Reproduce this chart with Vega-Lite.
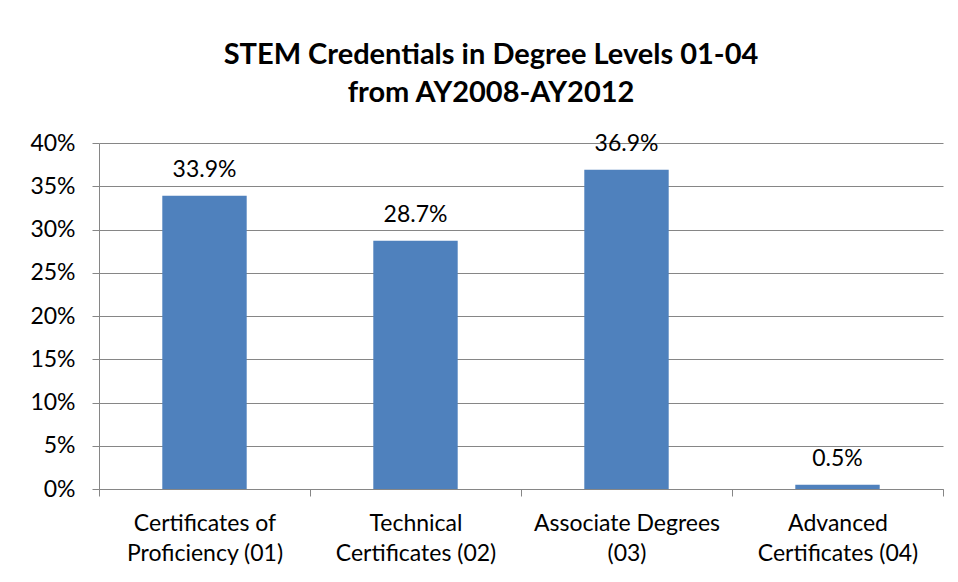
{
  "$schema": "https://vega.github.io/schema/vega-lite/v6.json",
  "width": 844,
  "height": 346,
  "autosize": {"type": "none"},
  "padding": {"left": 99, "top": 143, "right": 15, "bottom": 93},
  "background": "white",
  "title": {
    "text": ["STEM Credentials in Degree Levels 01-04", "from AY2008-AY2012"],
    "font": "Lato",
    "fontSize": 29,
    "fontWeight": "bold",
    "color": "#000000",
    "anchor": "middle",
    "frame": "group",
    "dx": -30,
    "offset": 24,
    "lineHeight": 38
  },
  "data": {
    "values": [
      {"category": "Certificates of Proficiency (01)", "value": 0.339},
      {"category": "Technical Certificates (02)", "value": 0.287},
      {"category": "Associate Degrees (03)", "value": 0.369},
      {"category": "Advanced Certificates (04)", "value": 0.005}
    ]
  },
  "encoding": {
    "x": {
      "field": "category",
      "type": "nominal",
      "sort": null,
      "scale": {"paddingInner": 0, "paddingOuter": 0},
      "axis": {
        "title": null,
        "labelAngle": 0,
        "labelExpr": "datum.value == 'Certificates of Proficiency (01)' ? ['Certificates of','Proficiency (01)'] : datum.value == 'Technical Certificates (02)' ? ['Technical','Certificates (02)'] : datum.value == 'Associate Degrees (03)' ? ['Associate Degrees','(03)'] : datum.value == 'Advanced Certificates (04)' ? ['Advanced','Certificates (04)'] : ''",
        "labelFont": "Lato",
        "labelFontSize": 23,
        "labelColor": "#000000",
        "labelLineHeight": 30,
        "labelPadding": 16,
        "labelLimit": 400,
        "tickBand": "extent",
        "tickSize": 7,
        "tickColor": "#868686",
        "domainColor": "#868686",
        "grid": false
      }
    },
    "y": {
      "field": "value",
      "type": "quantitative",
      "scale": {"domain": [0, 0.4], "nice": false},
      "axis": {
        "title": null,
        "format": ".0%",
        "values": [0, 0.05, 0.1, 0.15, 0.2, 0.25, 0.3, 0.35, 0.4],
        "labelFont": "Lato",
        "labelFontSize": 23,
        "labelColor": "#000000",
        "labelPadding": 17,
        "tickSize": 7,
        "tickColor": "#868686",
        "domainColor": "#868686",
        "gridColor": "#868686",
        "grid": true
      }
    }
  },
  "layer": [
    {"mark": {"type": "bar", "color": "#4F81BD", "width": {"band": 0.4}}},
    {
      "mark": {"type": "text", "baseline": "bottom", "dy": -14, "font": "Lato", "fontSize": 23, "color": "#000000"},
      "encoding": {"text": {"field": "value", "type": "quantitative", "format": ".1%"}}
    }
  ],
  "config": {"view": {"stroke": null}}
}
